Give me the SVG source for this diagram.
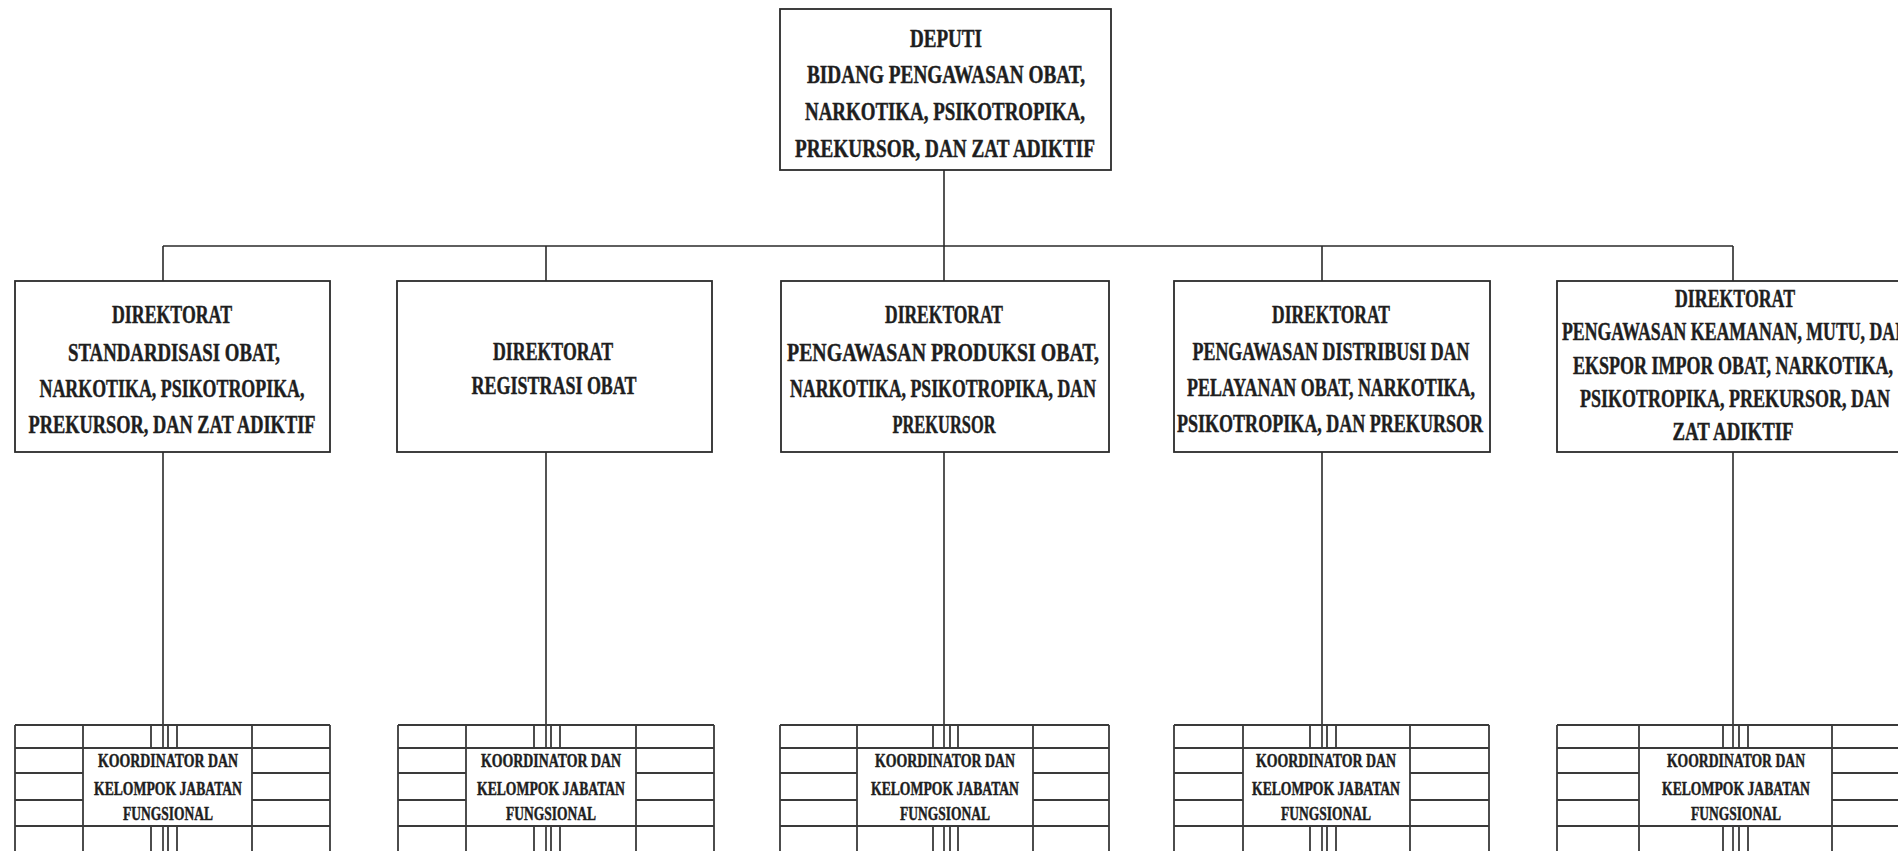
<svg xmlns="http://www.w3.org/2000/svg" width="1898" height="851" viewBox="0 0 1898 851">
<style>
.bg{fill:#ffffff}
.box{fill:#ffffff;stroke:#2b2b2b;stroke-width:1.8}
.ln{fill:none;stroke:#2b2b2b;stroke-width:1.6}
.gl{fill:none;stroke:#3a3a3a;stroke-width:1.8}
.t{font-family:"Liberation Serif","Times New Roman",serif;font-weight:bold;fill:#1e1e1e;stroke:#1e1e1e;stroke-width:0.45;text-anchor:middle}
.td{font-size:25px}
.tb{font-size:26px}
.tg{font-size:19px}
</style>
<rect class="bg" x="0" y="0" width="1898" height="851"/>

<g id="connectors">
<path class="ln" d="M944 170 V246 M163 246 H1733 M163 246 V281 M546 246 V281 M944 246 V281 M1322 246 V281 M1733 246 V281"/>
<path class="ln" d="M163 452 V748 M546 452 V748 M944 452 V748 M1322 452 V748 M1733 452 V748"/>
<path class="ln" d="M163 826 V851 M546 826 V851 M944 826 V851 M1322 826 V851 M1733 826 V851"/>
</g>

<g id="deputi">
<rect class="box" x="780" y="9" width="331" height="161"/>
<text class="t td" x="946" y="47" textLength="72" lengthAdjust="spacingAndGlyphs">DEPUTI</text>
<text class="t td" x="946" y="83" textLength="278" lengthAdjust="spacingAndGlyphs">BIDANG PENGAWASAN OBAT,</text>
<text class="t td" x="945" y="120" textLength="280" lengthAdjust="spacingAndGlyphs">NARKOTIKA, PSIKOTROPIKA,</text>
<text class="t td" x="945" y="157" textLength="300" lengthAdjust="spacingAndGlyphs">PREKURSOR, DAN ZAT ADIKTIF</text>
</g>

<g id="dir-standardisasi">
<rect class="box" x="15" y="281" width="315" height="171"/>
<text class="t tb" x="172" y="323" textLength="120" lengthAdjust="spacingAndGlyphs">DIREKTORAT</text>
<text class="t tb" x="174" y="361" textLength="212" lengthAdjust="spacingAndGlyphs">STANDARDISASI OBAT,</text>
<text class="t tb" x="172" y="397" textLength="265" lengthAdjust="spacingAndGlyphs">NARKOTIKA, PSIKOTROPIKA,</text>
<text class="t tb" x="172" y="433" textLength="287" lengthAdjust="spacingAndGlyphs">PREKURSOR, DAN ZAT ADIKTIF</text>
</g>

<g id="dir-registrasi">
<rect class="box" x="397" y="281" width="315" height="171"/>
<text class="t tb" x="553" y="360" textLength="120" lengthAdjust="spacingAndGlyphs">DIREKTORAT</text>
<text class="t tb" x="554" y="394" textLength="165" lengthAdjust="spacingAndGlyphs">REGISTRASI OBAT</text>
</g>

<g id="dir-produksi">
<rect class="box" x="781" y="281" width="328" height="171"/>
<text class="t tb" x="944" y="323" textLength="118" lengthAdjust="spacingAndGlyphs">DIREKTORAT</text>
<text class="t tb" x="943" y="361" textLength="312" lengthAdjust="spacingAndGlyphs">PENGAWASAN PRODUKSI OBAT,</text>
<text class="t tb" x="943" y="397" textLength="306" lengthAdjust="spacingAndGlyphs">NARKOTIKA, PSIKOTROPIKA, DAN</text>
<text class="t tb" x="944" y="433" textLength="103" lengthAdjust="spacingAndGlyphs">PREKURSOR</text>
</g>

<g id="dir-distribusi">
<rect class="box" x="1174" y="281" width="316" height="171"/>
<text class="t tb" x="1331" y="323" textLength="118" lengthAdjust="spacingAndGlyphs">DIREKTORAT</text>
<text class="t tb" x="1331" y="360" textLength="277" lengthAdjust="spacingAndGlyphs">PENGAWASAN DISTRIBUSI DAN</text>
<text class="t tb" x="1331" y="396" textLength="288" lengthAdjust="spacingAndGlyphs">PELAYANAN OBAT, NARKOTIKA,</text>
<text class="t tb" x="1330" y="432" textLength="306" lengthAdjust="spacingAndGlyphs">PSIKOTROPIKA, DAN PREKURSOR</text>
</g>

<g id="dir-keamanan">
<rect class="box" x="1557" y="281" width="360" height="171"/>
<text class="t tb" x="1735" y="307" textLength="120" lengthAdjust="spacingAndGlyphs">DIREKTORAT</text>
<text class="t tb" x="1735" y="340" textLength="346" lengthAdjust="spacingAndGlyphs">PENGAWASAN KEAMANAN, MUTU, DAN</text>
<text class="t tb" x="1733" y="374" textLength="320" lengthAdjust="spacingAndGlyphs">EKSPOR IMPOR OBAT, NARKOTIKA,</text>
<text class="t tb" x="1735" y="407" textLength="310" lengthAdjust="spacingAndGlyphs">PSIKOTROPIKA, PREKURSOR, DAN</text>
<text class="t tb" x="1733" y="440" textLength="121" lengthAdjust="spacingAndGlyphs">ZAT ADIKTIF</text>
</g>

<g id="jf-1">
<path class="gl" d="M15 725 H330 M15 748 H330 M15 826 H330 M15 773 H83 M15 800 H83 M252 773 H330 M252 800 H330 M15 725 V851 M83 725 V851 M252 725 V851 M330 725 V851 M151 725 V748 M168 725 V748 M177 725 V748 M151 826 V851 M168 826 V851 M177 826 V851"/>
<text class="t tg" x="168" y="767" textLength="140" lengthAdjust="spacingAndGlyphs">KOORDINATOR DAN</text>
<text class="t tg" x="168" y="795" textLength="148" lengthAdjust="spacingAndGlyphs">KELOMPOK JABATAN</text>
<text class="t tg" x="168" y="820" textLength="90" lengthAdjust="spacingAndGlyphs">FUNGSIONAL</text>
</g>

<g id="jf-2">
<path class="gl" d="M398 725 H714 M398 748 H714 M398 826 H714 M398 773 H466 M398 800 H466 M636 773 H714 M636 800 H714 M398 725 V851 M466 725 V851 M636 725 V851 M714 725 V851 M534 725 V748 M551 725 V748 M560 725 V748 M534 826 V851 M551 826 V851 M560 826 V851"/>
<text class="t tg" x="551" y="767" textLength="140" lengthAdjust="spacingAndGlyphs">KOORDINATOR DAN</text>
<text class="t tg" x="551" y="795" textLength="148" lengthAdjust="spacingAndGlyphs">KELOMPOK JABATAN</text>
<text class="t tg" x="551" y="820" textLength="90" lengthAdjust="spacingAndGlyphs">FUNGSIONAL</text>
</g>

<g id="jf-3">
<path class="gl" d="M780 725 H1109 M780 748 H1109 M780 826 H1109 M780 773 H857 M780 800 H857 M1033 773 H1109 M1033 800 H1109 M780 725 V851 M857 725 V851 M1033 725 V851 M1109 725 V851 M933 725 V748 M950 725 V748 M958 725 V748 M933 826 V851 M950 826 V851 M958 826 V851"/>
<text class="t tg" x="945" y="767" textLength="140" lengthAdjust="spacingAndGlyphs">KOORDINATOR DAN</text>
<text class="t tg" x="945" y="795" textLength="148" lengthAdjust="spacingAndGlyphs">KELOMPOK JABATAN</text>
<text class="t tg" x="945" y="820" textLength="90" lengthAdjust="spacingAndGlyphs">FUNGSIONAL</text>
</g>

<g id="jf-4">
<path class="gl" d="M1174 725 H1489 M1174 748 H1489 M1174 826 H1489 M1174 773 H1243 M1174 800 H1243 M1410 773 H1489 M1410 800 H1489 M1174 725 V851 M1243 725 V851 M1410 725 V851 M1489 725 V851 M1310 725 V748 M1327 725 V748 M1336 725 V748 M1310 826 V851 M1327 826 V851 M1336 826 V851"/>
<text class="t tg" x="1326" y="767" textLength="140" lengthAdjust="spacingAndGlyphs">KOORDINATOR DAN</text>
<text class="t tg" x="1326" y="795" textLength="148" lengthAdjust="spacingAndGlyphs">KELOMPOK JABATAN</text>
<text class="t tg" x="1326" y="820" textLength="90" lengthAdjust="spacingAndGlyphs">FUNGSIONAL</text>
</g>

<g id="jf-5">
<path class="gl" d="M1557 725 H1910 M1557 748 H1910 M1557 826 H1910 M1557 773 H1639 M1557 800 H1639 M1832 773 H1910 M1832 800 H1910 M1557 725 V851 M1639 725 V851 M1832 725 V851 M1723 725 V748 M1739 725 V748 M1748 725 V748 M1723 826 V851 M1739 826 V851 M1748 826 V851"/>
<text class="t tg" x="1736" y="767" textLength="138" lengthAdjust="spacingAndGlyphs">KOORDINATOR DAN</text>
<text class="t tg" x="1736" y="795" textLength="148" lengthAdjust="spacingAndGlyphs">KELOMPOK JABATAN</text>
<text class="t tg" x="1736" y="820" textLength="90" lengthAdjust="spacingAndGlyphs">FUNGSIONAL</text>
</g>
</svg>
